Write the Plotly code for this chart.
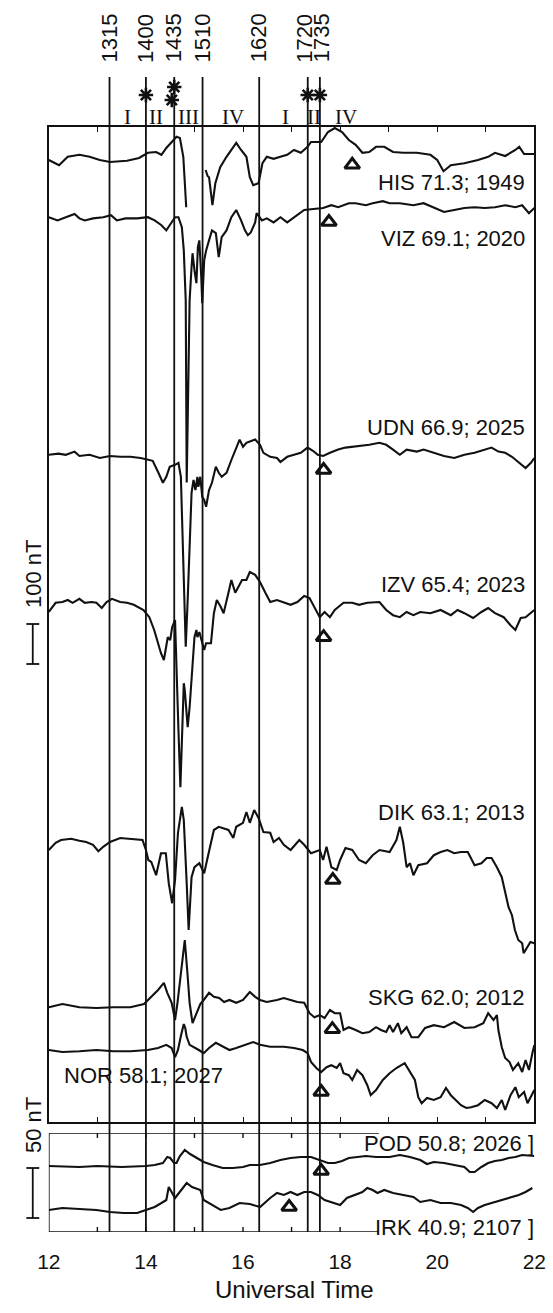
import plotly.graph_objects as go

# ---------------------------------------------------------------------------
# Magnetometer H-component traces: (UT hour, deviation from quiet level, nT)
# ---------------------------------------------------------------------------
HIS = [(12.0, 5), (12.21, -8), (12.39, 13), (12.63, 18), (12.84, 13), (13.05, 5), (13.26, 0),
       (13.61, 3), (13.86, 10), (14.04, 23), (14.21, 25), (14.32, 18), (14.42, 35), (14.53, 50),
       (14.63, 63), (14.70, 60), (14.77, 13), (14.83, -113), (None, None),
       (15.23, -20), (15.27, -35), (15.30, -38), (15.37, -108), (15.43, -53), (15.53, -13),
       (15.66, 13), (15.86, 48), (15.96, 30), (16.07, 13), (16.14, -38), (16.21, -58), (16.32, -53),
       (16.40, -3), (16.49, 13), (16.63, 8), (16.77, 13), (16.91, 18), (17.05, 30), (17.19, 23),
       (17.33, 38), (17.40, 50), (17.61, 50), (17.75, 75), (17.89, 85), (18.04, 75), (18.18, 55),
       (18.32, 43), (18.46, 23), (18.60, 25), (18.74, 38), (18.91, 38), (19.09, 25), (19.30, 23),
       (19.58, 23), (19.86, 18), (20.00, 5), (20.13, -23), (20.28, -8), (20.56, -3), (20.84, 5),
       (21.05, 13), (21.19, 23), (21.40, 15), (21.61, 30), (21.69, 38), (21.79, 20), (22.0, 20)]

VIZ = [(12.0, 0), (12.18, -8), (12.35, 0), (12.53, 8), (12.63, -3), (12.74, -8), (12.91, -3),
       (13.12, 0), (13.28, 5), (13.40, -8), (13.58, -3), (13.82, -3), (14.04, 0), (14.18, -8),
       (14.32, -20), (14.42, -33), (14.49, -20), (14.60, 0), (14.67, 0), (14.74, -25), (14.78, -83),
       (14.82, -208), (14.84, -663), (14.86, -508), (14.88, -300), (14.90, -208), (14.94, -125),
       (14.96, -90), (15.00, -133), (15.04, -165), (15.07, -75), (15.10, -58), (15.14, -150),
       (15.16, -215), (15.20, -108), (15.24, -83), (15.30, -58), (15.36, -33), (15.44, -40),
       (15.50, -100), (15.56, -50), (15.66, -33), (15.76, 0), (15.86, 18), (15.96, -8), (16.04, -33),
       (16.10, -45), (16.16, -38), (16.25, -13), (16.28, 10), (16.39, -8), (16.49, -3), (16.63, -13),
       (16.77, 0), (16.91, -13), (17.05, 0), (17.26, 18), (17.40, 20), (17.65, 23), (17.82, 30),
       (17.96, 25), (18.18, 35), (18.32, 35), (18.53, 30), (18.67, 35), (18.88, 40), (19.02, 35),
       (19.23, 35), (19.51, 30), (19.72, 35), (19.93, 25), (20.14, 13), (20.35, 18), (20.56, 23),
       (20.77, 25), (20.98, 23), (21.19, 25), (21.40, 30), (21.61, 25), (21.75, 30), (21.89, 10),
       (22.0, 23)]

UDN = [(12.0, 0), (12.2, 3), (12.35, 0), (12.53, 8), (12.63, -3), (12.84, 0), (13.05, -8),
       (13.26, -3), (13.47, -5), (13.68, -5), (13.89, -8), (14.04, -13), (14.14, -15), (14.25, -43),
       (14.35, -70), (14.42, -55), (14.49, -30), (14.60, -25), (14.67, -20), (14.72, -55),
       (14.76, -238), (14.80, -405), (14.82, -480), (14.86, -363), (14.90, -238), (14.92, -155),
       (14.94, -95), (14.98, -63), (15.02, -88), (15.06, -55), (15.08, -80), (15.12, -55),
       (15.16, -105), (15.20, -113), (15.24, -130), (15.30, -88), (15.36, -70), (15.44, -30),
       (15.50, -45), (15.56, -55), (15.66, -45), (15.76, -13), (15.84, 13), (15.93, 38), (16.00, 20),
       (16.07, 30), (16.14, 33), (16.25, 38), (16.35, 25), (16.42, 5), (16.56, -5), (16.70, -8),
       (16.77, -18), (16.91, -5), (17.05, 0), (17.19, 5), (17.33, 18), (17.44, 10), (17.54, 0),
       (17.65, -3), (17.79, 5), (17.96, 13), (18.11, 18), (18.25, 20), (18.60, 25), (18.81, 30),
       (18.95, 25), (19.09, 13), (19.23, 0), (19.37, 13), (19.58, 8), (19.72, 13), (19.93, 5),
       (20.14, -3), (20.35, -8), (20.56, 0), (20.77, 5), (20.98, 13), (21.12, 18), (21.26, 8),
       (21.40, 5), (21.54, -5), (21.68, -18), (21.82, -33), (21.93, -20), (22.0, -8)]

IZV = [(12.0, 0), (12.14, 23), (12.28, 25), (12.39, 30), (12.49, 23), (12.63, 33), (12.74, 23),
       (12.88, 25), (12.98, 23), (13.09, 10), (13.19, 25), (13.30, 33), (13.47, 25), (13.61, 23),
       (13.75, 18), (13.95, 5), (14.07, -13), (14.17, -45), (14.25, -78), (14.31, -103),
       (14.37, -120), (14.41, -95), (14.45, -63), (14.50, -70), (14.54, -38), (14.60, -20),
       (14.63, -120), (14.67, -295), (14.71, -438), (14.75, -263), (14.78, -178), (14.80, -195),
       (14.83, -253), (14.86, -288), (14.90, -238), (14.94, -163), (14.96, -128), (15.00, -63),
       (15.04, -45), (15.06, -63), (15.10, -50), (15.16, -78), (15.20, -95), (15.24, -78),
       (15.34, -78), (15.40, -3), (15.46, 30), (15.54, 13), (15.60, -3), (15.70, 48), (15.76, 80),
       (15.84, 48), (15.90, 63), (15.98, 80), (16.07, 80), (16.14, 100), (16.25, 93), (16.35, 75),
       (16.46, 48), (16.56, 25), (16.70, 30), (16.84, 23), (16.98, 18), (17.12, 25), (17.26, 40),
       (17.37, 35), (17.47, 13), (17.58, -13), (17.68, 0), (17.79, -13), (17.89, 5), (18.07, 23),
       (18.25, 23), (18.39, 18), (18.56, 23), (18.81, 25), (18.95, 5), (19.09, -8), (19.23, -13),
       (19.37, 0), (19.51, -8), (19.65, 0), (19.86, -3), (20.07, 5), (20.28, -8), (20.42, 5),
       (20.56, -3), (20.74, -15), (20.91, 0), (21.05, 10), (21.19, -3), (21.37, -13), (21.51, -33),
       (21.61, -45), (21.72, -15), (21.82, -13), (22.0, 5)]

DIK = [(12.0, 0), (12.14, 18), (12.25, 25), (12.46, 28), (12.63, 23), (12.77, 20), (12.91, 13),
       (13.02, -3), (13.12, 8), (13.26, 20), (13.47, 30), (13.75, 28), (13.93, 25), (14.00, 0),
       (14.05, -25), (14.11, -30), (14.21, -63), (14.31, -8), (14.41, -8), (14.47, -83),
       (14.54, -133), (14.60, -75), (14.66, 43), (14.74, 108), (14.78, 75), (14.84, -83),
       (14.88, -200), (14.94, -68), (15.00, -43), (15.10, -33), (15.20, -58), (15.26, -25),
       (15.40, 50), (15.50, 58), (15.70, 50), (15.80, 30), (15.86, 58), (16.00, 68), (16.07, 95),
       (16.14, 68), (16.23, 100), (16.32, 80), (16.42, 45), (16.56, 43), (16.63, 20), (16.74, 30),
       (16.84, 13), (16.98, 0), (17.16, 25), (17.26, 13), (17.40, -8), (17.58, 0), (17.65, -25),
       (17.72, 8), (17.82, -43), (17.93, -50), (18.00, -25), (18.11, 5), (18.25, 0), (18.39, -25),
       (18.53, -33), (18.67, -13), (18.81, 0), (19.02, -5), (19.16, 25), (19.23, 58), (19.30, 18),
       (19.37, -43), (19.44, -33), (19.51, -63), (19.61, -38), (19.79, -33), (19.93, -13),
       (20.07, -5), (20.21, 0), (20.35, -8), (20.49, -5), (20.63, -5), (20.77, -38), (20.91, -33),
       (21.02, -20), (21.12, -20), (21.23, -43), (21.33, -68), (21.47, -143), (21.54, -163),
       (21.60, -200), (21.67, -225), (21.75, -233), (21.78, -258), (21.85, -243), (21.92, -230),
       (22.0, -233)]

SKG = [(12.0, -3), (12.28, 5), (12.63, -3), (12.98, -5), (13.33, -3), (13.68, -3), (13.96, 5),
       (14.11, 23), (14.25, 40), (14.37, 58), (14.44, 33), (14.53, 8), (14.60, -35), (14.65, 8),
       (14.70, 65), (14.75, 120), (14.80, 165), (14.85, 90), (14.90, 8), (14.96, -43), (15.04, -18),
       (15.12, 5), (15.19, 15), (15.30, 33), (15.40, 23), (15.51, 20), (15.61, 10), (15.72, 15),
       (15.86, 8), (16.00, 15), (16.14, 35), (16.25, 23), (16.35, 15), (16.49, 10), (16.70, 15),
       (16.84, 20), (16.98, 15), (17.12, 10), (17.26, 8), (17.37, -18), (17.47, -28), (17.58, -23),
       (17.68, -30), (17.79, -10), (17.89, -18), (18.00, -18), (18.07, -60), (18.18, -53),
       (18.32, -60), (18.46, -68), (18.60, -65), (18.74, -53), (18.84, -60), (18.95, -65),
       (19.02, -48), (19.09, -65), (19.19, -43), (19.26, -68), (19.37, -53), (19.47, -78),
       (19.61, -78), (19.75, -55), (19.93, -48), (20.14, -53), (20.35, -40), (20.56, -55),
       (20.77, -53), (20.95, -43), (21.05, -18), (21.16, -35), (21.23, -23), (21.26, -60),
       (21.33, -103), (21.40, -130), (21.49, -140), (21.56, -160), (21.67, -143), (21.75, -165),
       (21.82, -135), (21.89, -160), (21.96, -118), (22.0, -98)]

NOR = [(12.0, 0), (12.28, -5), (12.63, -3), (12.98, 0), (13.33, -3), (13.68, -3), (14.04, 0),
       (14.25, 5), (14.42, 13), (14.53, 5), (14.60, -18), (14.66, 0), (14.72, 35), (14.78, 65),
       (14.81, 55), (14.84, 33), (14.90, 13), (14.98, 8), (15.09, 0), (15.19, -8), (15.30, 5),
       (15.44, 18), (15.58, 8), (15.72, 0), (15.86, 5), (16.07, 13), (16.21, 20), (16.35, 13),
       (16.56, 8), (16.84, 8), (17.05, 5), (17.23, 0), (17.33, -8), (17.40, -30), (17.51, -45),
       (17.61, -55), (17.72, -43), (17.82, -38), (17.93, -45), (18.00, -33), (18.07, -58),
       (18.18, -63), (18.25, -75), (18.35, -50), (18.46, -63), (18.56, -88), (18.63, -113),
       (18.74, -100), (18.88, -75), (19.02, -58), (19.16, -45), (19.33, -33), (19.44, -55),
       (19.54, -75), (19.61, -118), (19.68, -133), (19.79, -120), (19.93, -125), (20.07, -118),
       (20.18, -95), (20.28, -113), (20.39, -125), (20.49, -138), (20.60, -145), (20.70, -143),
       (20.84, -138), (20.98, -125), (21.12, -133), (21.23, -145), (21.33, -125), (21.40, -150),
       (21.51, -113), (21.61, -93), (21.68, -118), (21.79, -105), (21.86, -133), (21.96, -108),
       (22.0, -100)]

POD = [(12.0, 0), (12.63, -1), (13.0, 0), (13.5, -1), (14.0, 0), (14.18, 1), (14.35, 3), (14.44, 9),
       (14.50, 8), (14.58, 3), (14.63, 3), (14.70, 10), (14.80, 16), (14.91, 12), (15.05, 8),
       (15.19, 4), (15.37, 1), (15.58, -2), (15.79, -2), (16.00, -1), (16.14, 1), (16.35, 1),
       (16.56, 3), (16.77, 6), (16.98, 8), (17.19, 9), (17.40, 9), (17.61, 5), (17.75, 3), (17.89, 3),
       (18.04, 5), (18.18, 8), (18.32, 9), (18.53, 10), (18.74, 9), (19.02, 9), (19.23, 11),
       (19.44, 9), (19.65, 6), (19.79, 2), (19.93, 4), (20.14, 3), (20.35, 1), (20.56, -1),
       (20.67, -6), (20.77, -6), (20.91, -1), (21.05, 3), (21.19, 5), (21.33, 6), (21.47, 8),
       (21.61, 9), (21.75, 11), (22.0, 10)]

IRK = [(12.0, 0), (12.28, 2), (12.63, 1), (12.98, 0), (13.26, -2), (13.54, -3), (13.82, -3),
       (14.00, 0), (14.18, 3), (14.32, 7), (14.42, 10), (14.47, 23), (14.53, 18), (14.60, 12),
       (14.68, 17), (14.77, 23), (14.84, 27), (14.95, 23), (15.12, 20), (15.19, 10), (15.37, 5),
       (15.54, 0), (15.72, 2), (15.93, 7), (16.14, 6), (16.35, 3), (16.56, 12), (16.70, 17),
       (16.84, 15), (16.98, 18), (17.12, 15), (17.26, 18), (17.40, 18), (17.54, 15), (17.68, 10),
       (17.82, 8), (18.00, 5), (18.14, 12), (18.32, 15), (18.46, 18), (18.56, 22), (18.67, 20),
       (18.77, 17), (18.91, 20), (19.09, 17), (19.30, 15), (19.51, 13), (19.65, 8), (19.86, 10),
       (20.07, 7), (20.28, 7), (20.49, 5), (20.63, 2), (20.74, -2), (20.84, 2), (20.98, 5),
       (21.12, 7), (21.33, 10), (21.54, 13), (21.68, 15), (21.82, 18), (21.96, 22)]

# station code -> (trace, label text, stacking baseline in nT, panel)
STATIONS = {
    "HIS": (HIS, "HIS 71.3; 1949", 2400, "main"),
    "VIZ": (VIZ, "VIZ 69.1; 2020", 2262, "main"),
    "UDN": (UDN, "UDN 66.9; 2025", 1668, "main"),
    "IZV": (IZV, "IZV 65.4; 2023", 1275, "main"),
    "DIK": (DIK, "DIK 63.1; 2013", 680, "main"),
    "SKG": (SKG, "SKG 62.0; 2012", 290, "main"),
    "NOR": (NOR, "NOR 58.1; 2027", 180, "main"),
    "POD": (POD, "POD 50.8; 2026 ]", 66, "low"),
    "IRK": (IRK, "IRK 40.9; 2107 ]", 22, "low"),
}

# onset markers: station -> (UT hour, level relative to the station baseline, nT)
ONSETS = {
    "HIS": (18.25, -7), "VIZ": (17.77, -12), "UDN": (17.66, -38), "IZV": (17.66, -63),
    "DIK": (17.85, -75), "SKG": (17.84, -58), "NOR": (17.61, -105),
    "POD": (17.61, -5), "IRK": (16.95, 3),
}

# event times drawn as vertical lines
EVENT_TIMES = ["1315", "1400", "1435", "1510", "1620", "1720", "1735"]
# asterisk markers on the event lines
STAR_TIMES = ["1400", "1435", "1435", "1720", "1735"]
# phase numerals and the UT hour they are centred on
PHASES = [("I", 13.62), ("II", 14.2), ("III", 14.87), ("IV", 15.8),
          ("I", 16.88), ("II", 17.46), ("IV", 18.12)]
TICK_HOURS = [12, 14, 16, 18, 20, 22]


def hours(hhmm):
    return int(hhmm[:2]) + int(hhmm[2:]) / 60.0


# ---------------------------------------------------------------------------
# Page geometry (pixels)
# ---------------------------------------------------------------------------
W, H = 553, 1313
FRAME_L, FRAME_R = 38.5, 546
MAIN_TOP, MAIN_BOT = 127, 1122
LOW_TOP, LOW_BOT = 1133, 1232
LINE_TOP = 77
NT_PER_PX_MAIN = 2.5
NT_PER_PX_LOW = 1.0
INK = "#111111"
SANS = "Liberation Sans, Arial, sans-serif"
SERIF = "Liberation Serif, Times New Roman, serif"


def fx(p):
    return p / W


def fy(p):
    return 1 - p / H


MAIN_RANGE = [0, (MAIN_BOT - MAIN_TOP) * NT_PER_PX_MAIN]
LOW_RANGE = [0, (LOW_BOT - LOW_TOP) * NT_PER_PX_LOW]
LOW_BORDER_END = 18.80
# horizontal nudge (hours) of the crowded event-time captions
CAPTION_NUDGE = {"1720": -0.06, "1735": 0.05}

fig = go.Figure()

# station traces
for code, (trace, label, base, panel) in STATIONS.items():
    t = [p[0] for p in trace]
    v = [None if p[1] is None else p[1] + base for p in trace]
    axes = dict(xaxis="x", yaxis="y") if panel == "main" else dict(xaxis="x2", yaxis="y2")
    fig.add_trace(go.Scatter(x=t, y=v, mode="lines", line=dict(color=INK, width=2.1),
                             connectgaps=False, hoverinfo="skip", **axes))

# onset triangles
for panel, ax in (("main", ("x", "y")), ("low", ("x2", "y2"))):
    tx, ty = [], []
    for code, (t, lvl) in ONSETS.items():
        if STATIONS[code][3] == panel:
            tx.append(t)
            ty.append(STATIONS[code][2] + lvl)
    fig.add_trace(go.Scatter(x=tx, y=ty, xaxis=ax[0], yaxis=ax[1], mode="markers",
                             marker=dict(symbol="triangle-up-open", size=13, color=INK,
                                         line=dict(color=INK, width=3)),
                             hoverinfo="skip"))

# asterisks above the event lines (pixel-row overlay axis)
star_rows = [95, 87, 100, 95, 95]
star_x = [hours(s) for s in STAR_TIMES]
star_x[2] -= 0.05
fig.add_trace(go.Scatter(x=star_x, y=star_rows, xaxis="x3", yaxis="y3", mode="markers",
                         cliponaxis=False,
                         marker=dict(symbol="asterisk-open", size=12, color=INK,
                                     line=dict(color=INK, width=2.6)),
                         hoverinfo="skip"))

shapes = []
# event lines
for s in EVENT_TIMES:
    shapes.append(dict(type="line", xref="x", yref="paper", x0=hours(s), x1=hours(s),
                       y0=fy(LOW_BOT), y1=fy(LINE_TOP), line=dict(color=INK, width=1.8)))

# lower panel frame (open on the right where the labels sit)
low_line = dict(color=INK, width=1.6)
shapes += [
    dict(type="line", xref="x2", yref="y2", x0=12, x1=12, y0=LOW_RANGE[0], y1=LOW_RANGE[1], line=low_line),
    dict(type="line", xref="x2", yref="y2", x0=12, x1=LOW_BORDER_END, y0=LOW_RANGE[1], y1=LOW_RANGE[1], line=low_line),
    dict(type="line", xref="x2", yref="y2", x0=12, x1=LOW_BORDER_END, y0=LOW_RANGE[0], y1=LOW_RANGE[0], line=low_line),
]
for h in range(13, 19):
    shapes.append(dict(type="line", xref="x2", yref="y2", x0=h, x1=h, y0=LOW_RANGE[0], y1=LOW_RANGE[0] + 5,
                       line=dict(color=INK, width=1.4)))
    shapes.append(dict(type="line", xref="x2", yref="y2", x0=h, x1=h, y0=LOW_RANGE[1], y1=LOW_RANGE[1] - 5,
                       line=dict(color=INK, width=1.4)))

# scale bars: 100 nT on the main panel, 50 nT on the lower panel
bar_x, cap_l, cap_r = fx(21.7), fx(15), fx(28.5)
for yref, y0, length in (("y", 1145, 100), ("y2", 14, 50)):
    y1 = y0 + length
    shapes += [
        dict(type="line", xref="paper", yref=yref, x0=bar_x, x1=bar_x, y0=y0, y1=y1, line=dict(color=INK, width=1.8)),
        dict(type="line", xref="paper", yref=yref, x0=cap_l, x1=cap_r, y0=y0, y1=y0, line=dict(color=INK, width=1.8)),
        dict(type="line", xref="paper", yref=yref, x0=cap_l, x1=cap_r, y0=y1, y1=y1, line=dict(color=INK, width=1.8)),
    ]

ann = []


def text_at(x, y, text, size, xref="paper", anchor="center", angle=0, family=SANS):
    ann.append(dict(x=x, y=y, xref=xref, yref="paper", text=text, textangle=angle,
                    showarrow=False, xanchor=anchor, yanchor="middle",
                    font=dict(family=family, size=size, color=INK)))


for s in EVENT_TIMES:
    text_at(hours(s) + CAPTION_NUDGE.get(s, 0), fy(38), s, 22, xref="x", angle=-90)
for numeral, t in PHASES:
    text_at(t, fy(117), numeral, 21, xref="x", family=SERIF)

label_rows = {"HIS": 182, "VIZ": 238, "UDN": 427, "IZV": 585, "DIK": 812, "SKG": 997,
              "NOR": 1075, "POD": 1143, "IRK": 1227}
for code, (trace, label, base, panel) in STATIONS.items():
    if code == "NOR":
        x, xa = fx(52), "left"
    elif panel == "low":
        x, xa = fx(548), "right"
    else:
        x, xa = fx(538), "right"
    text_at(x, fy(label_rows[code]), label, 22, anchor=xa)

text_at(fx(22), fy(574), "100 nT", 22, angle=-90)
text_at(fx(22), fy(1125), "50 nT", 22, angle=-90)
text_at(fx(295), fy(1289), "Universal Time", 24)

xdom = [fx(FRAME_L), fx(FRAME_R)]
fig.update_layout(
    width=W, height=H, margin=dict(l=0, r=0, t=0, b=0),
    paper_bgcolor="white", plot_bgcolor="rgba(0,0,0,0)", showlegend=False,
    font=dict(family=SANS, color=INK),
    shapes=shapes, annotations=ann,
    xaxis=dict(domain=xdom, range=[12, 22], anchor="y", showline=True, linecolor=INK, linewidth=1.6,
               mirror="ticks", ticks="inside", ticklen=5, tickwidth=1.4, tickcolor=INK,
               tick0=12, dtick=1, showticklabels=False, showgrid=False, zeroline=False),
    yaxis=dict(domain=[fy(MAIN_BOT), fy(MAIN_TOP)], range=MAIN_RANGE, anchor="x", showline=True,
               linecolor=INK, linewidth=1.6, mirror=True, ticks="", showticklabels=False,
               showgrid=False, zeroline=False),
    xaxis2=dict(domain=xdom, range=[12, 22], anchor="y2", showline=False, ticks="",
                tickvals=TICK_HOURS, ticktext=[str(h) for h in TICK_HOURS],
                tickfont=dict(family=SANS, size=21, color=INK), ticklabelstandoff=15,
                ticklabeloverflow="allow", showgrid=False, zeroline=False),
    yaxis2=dict(domain=[fy(LOW_BOT), fy(LOW_TOP)], range=LOW_RANGE, anchor="x2", showline=False,
                ticks="", showticklabels=False, showgrid=False, zeroline=False),
    xaxis3=dict(domain=xdom, range=[12, 22], anchor="y3", visible=False),
    yaxis3=dict(domain=[0, 1], range=[H, 0], anchor="x3", visible=False),
)

fig.write_html("out.html")
